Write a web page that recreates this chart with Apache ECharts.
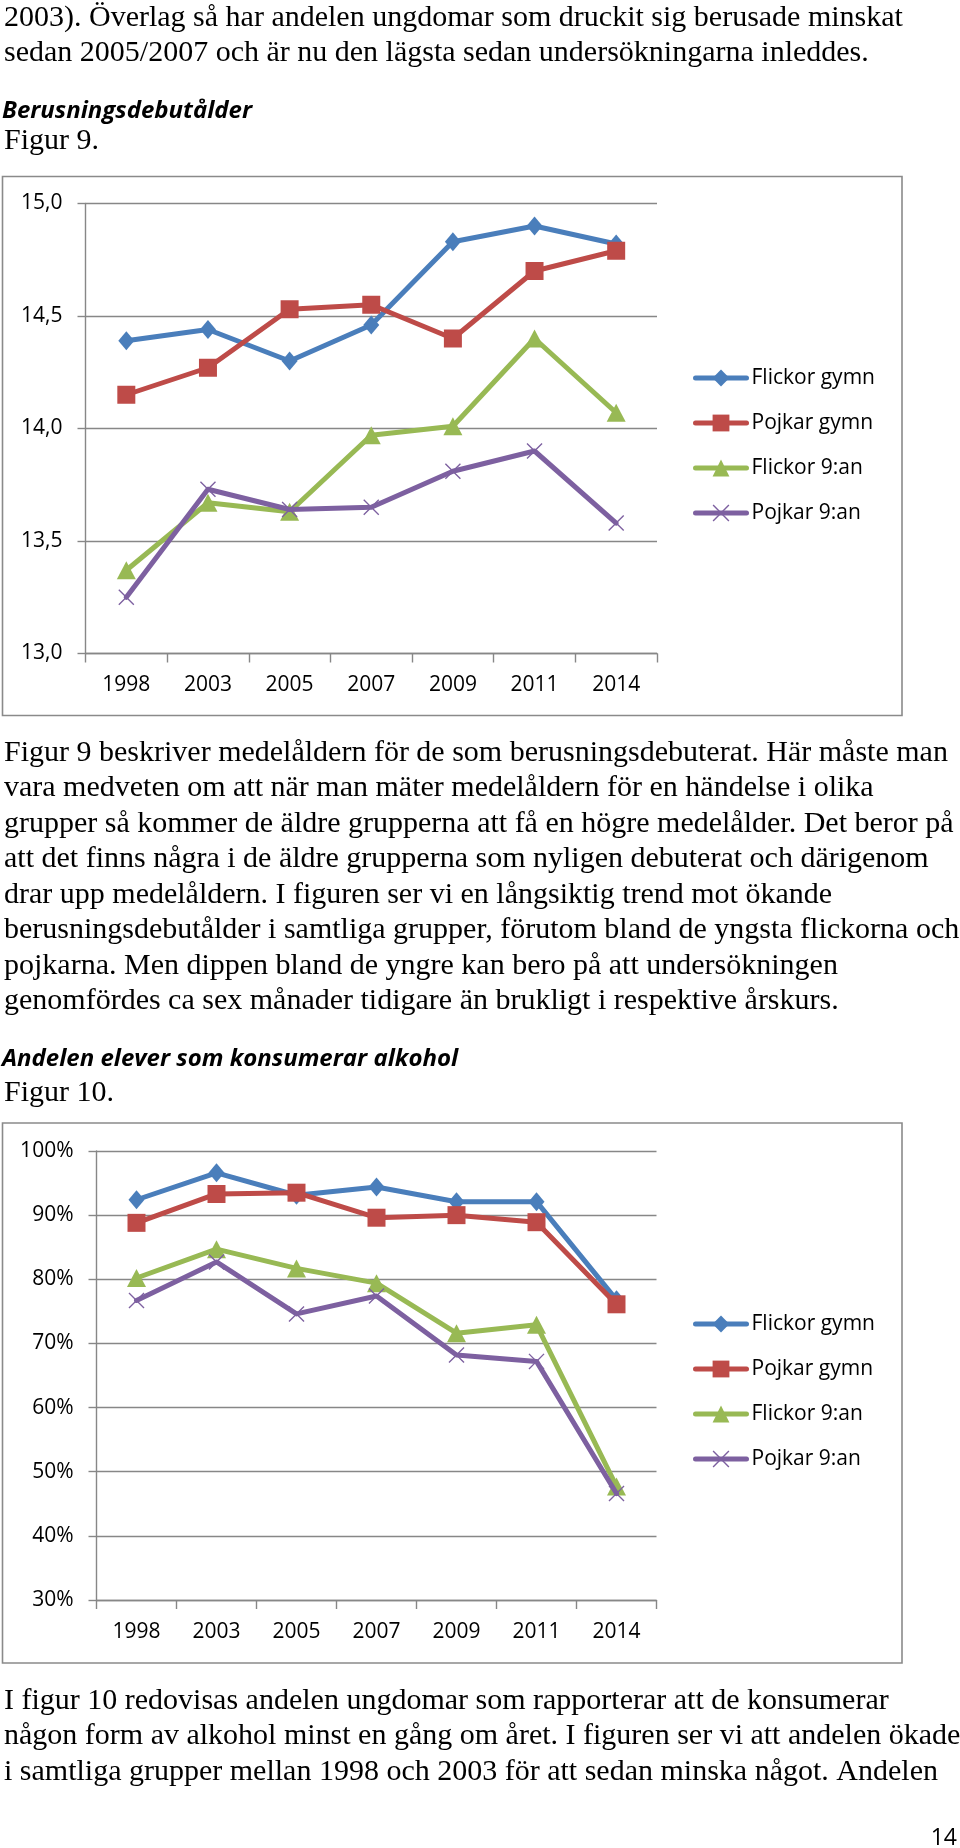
<!DOCTYPE html>
<html>
<head>
<meta charset="utf-8">
<script src="https://cdn.jsdelivr.net/npm/echarts@6/dist/echarts.min.js"></script>
<style>
html,body{margin:0;padding:0;background:#fff;}
#main{width:960px;height:1848px;}
</style>
</head>
<body>
<div id="main"></div>
<script>
// ---------- data ----------
const years = ['1998', '2003', '2005', '2007', '2009', '2011', '2014'];
const seriesNames = ['Flickor gymn', 'Pojkar gymn', 'Flickor 9:an', 'Pojkar 9:an'];

// Figur 9: Berusningsdebutålder (years of age)
const fig9FlickorGymn = [14.39, 14.44, 14.30, 14.46, 14.83, 14.90, 14.82];
const fig9PojkarGymn  = [14.15, 14.27, 14.53, 14.55, 14.40, 14.70, 14.79];
const fig9Flickor9an  = [13.37, 13.67, 13.63, 13.97, 14.01, 14.40, 14.07];
const fig9Pojkar9an   = [13.25, 13.73, 13.64, 13.65, 13.81, 13.90, 13.58];
const fig9TickLabels  = ['13,0', '13,5', '14,0', '14,5', '15,0'];

// Figur 10: Andelen elever som konsumerar alkohol (%)
const fig10FlickorGymn = [92.4, 96.6, 93.1, 94.4, 92.1, 92.1, 76.8];
const fig10PojkarGymn  = [88.8, 93.3, 93.5, 89.6, 90.0, 88.9, 76.1];
const fig10Flickor9an  = [80.2, 84.7, 81.7, 79.4, 71.6, 72.9, 47.7];
const fig10Pojkar9an   = [76.7, 82.7, 74.6, 77.4, 68.2, 67.2, 46.6];
const fig10TickLabels  = ['30%', '40%', '50%', '60%', '70%', '80%', '90%', '100%'];

// ---------- text ----------
const textTop = [
  '2003). Överlag så har andelen ungdomar som druckit sig berusade minskat',
  'sedan 2005/2007 och är nu den lägsta sedan undersökningarna inleddes.'
];
const heading9 = 'Berusningsdebutålder';
const caption9 = 'Figur 9.';
const textMiddle = [
  'Figur 9 beskriver medelåldern för de som berusningsdebuterat. Här måste man',
  'vara medveten om att när man mäter medelåldern för en händelse i olika',
  'grupper så kommer de äldre grupperna att få en högre medelålder. Det beror på',
  'att det finns några i de äldre grupperna som nyligen debuterat och därigenom',
  'drar upp medelåldern. I figuren ser vi en långsiktig trend mot ökande',
  'berusningsdebutålder i samtliga grupper, förutom bland de yngsta flickorna och',
  'pojkarna. Men dippen bland de yngre kan bero på att undersökningen',
  'genomfördes ca sex månader tidigare än brukligt i respektive årskurs.'
];
const heading10 = 'Andelen elever som konsumerar alkohol';
const caption10 = 'Figur 10.';
const textBottom = [
  'I figur 10 redovisas andelen ungdomar som rapporterar att de konsumerar',
  'någon form av alkohol minst en gång om året. I figuren ser vi att andelen ökade',
  'i samtliga grupper mellan 1998 och 2003 för att sedan minska något. Andelen'
];
const pageNumber = '14';

// ---------- styling ----------
const COLORS = ['#4A7EBB', '#BE4B48', '#98B954', '#7D60A0'];
const CROSS = 'path://M0,0.6 L0.6,0 L5,4.4 L9.4,0 L10,0.6 L5.6,5 L10,9.4 L9.4,10 L5,5.6 L0.6,10 L0,9.4 L4.4,5 Z';
const SYMBOLS = ['diamond', 'rect', 'triangle', CROSS];
const SYMSIZE = [[16, 19], 18, [19, 18], 16];
const GRIDC = '#878787';
const SANS = '"Open Sans", "Noto Sans", sans-serif';
const SERIF = '"Liberation Serif", "Times New Roman", serif';
const CHART_FS = 21;

function makeSeries(name, data, idx, axisIdx) {
  return {
    type: 'line', name: name, data: data,
    xAxisIndex: axisIdx, yAxisIndex: axisIdx,
    symbol: SYMBOLS[idx], symbolSize: SYMSIZE[idx],
    color: COLORS[idx],
    itemStyle: { color: COLORS[idx] },
    lineStyle: { width: 5, color: COLORS[idx], cap: 'round', join: 'round' },
    z: 2 + idx
  };
}

function xAxisDef(gi) {
  return {
    type: 'category', gridIndex: gi, data: years, boundaryGap: true,
    axisLine: { show: true, lineStyle: { color: GRIDC, width: 1.4 } },
    axisTick: { show: true, length: 9, interval: 0, lineStyle: { color: GRIDC, width: 1.4 } },
    axisLabel: { margin: 21, fontSize: CHART_FS, fontFamily: SANS, color: '#000', interval: 0, lineHeight: 22 }
  };
}
function yAxisDef(gi, min, max, interval, labels) {
  return {
    type: 'value', gridIndex: gi, min: min, max: max, interval: interval,
    axisLine: { show: true, lineStyle: { color: GRIDC, width: 1.4 } },
    axisTick: { show: true, length: 8, lineStyle: { color: GRIDC, width: 1.4 } },
    splitLine: { show: true, lineStyle: { color: GRIDC, width: 1.4 } },
    axisLabel: {
      margin: 23, fontSize: CHART_FS, fontFamily: SANS, color: '#000',
      formatter: function (v) {
        const i = Math.round((v - min) / interval);
        return labels[i] !== undefined ? labels[i] : '';
      }
    }
  };
}
function legendDef(top) {
  return {
    orient: 'vertical', left: 693, top: top, padding: 0,
    itemWidth: 51, itemHeight: 21, itemGap: 23,
    data: seriesNames,
    selectedMode: false,
    lineStyle: { width: 5 },
    textStyle: { fontSize: CHART_FS, fontFamily: SANS, color: '#000', lineHeight: 22 }
  };
}

// graphic texts
const graphics = [];
function addText(str, x, y, font, align) {
  graphics.push({
    type: 'text', z: 10,
    style: {
      text: str, x: x, y: y, font: font, fill: '#000',
      align: align || 'left', verticalAlign: 'middle',
      textAlign: align || 'left', textVerticalAlign: 'middle'
    }
  });
}
const BODY_FONT = '30px ' + SERIF;
const HEAD_FONT = 'italic bold 24px ' + SANS;
const LH = 35.5;
textTop.forEach((t, i) => addText(t, 4, 18 + i * LH, BODY_FONT));
addText(heading9, 2, 111, HEAD_FONT);
addText(caption9, 4, 141, BODY_FONT);
textMiddle.forEach((t, i) => addText(t, 4, 753 + i * LH, BODY_FONT));
addText(heading10, 2, 1059, HEAD_FONT);
addText(caption10, 4, 1093, BODY_FONT);
textBottom.forEach((t, i) => addText(t, 4, 1701 + i * LH, BODY_FONT));
addText(pageNumber, 957, 1838, '23px ' + SANS, 'right');

// chart frames
graphics.push({ type: 'rect', z: 0, shape: { x: 2.5, y: 176.5, width: 899.5, height: 539 },
  style: { fill: 'none', stroke: '#8a8a8a', lineWidth: 1.6 } });
graphics.push({ type: 'rect', z: 0, shape: { x: 2.5, y: 1123, width: 899.5, height: 540 },
  style: { fill: 'none', stroke: '#8a8a8a', lineWidth: 1.6 } });

const option = {
  animation: false,
  backgroundColor: '#fff',
  grid: [
    { left: 85.5, top: 203.5, width: 571.5, height: 450 },
    { left: 96.5, top: 1151, width: 560, height: 449 }
  ],
  xAxis: [xAxisDef(0), xAxisDef(1)],
  yAxis: [
    yAxisDef(0, 13, 15, 0.5, fig9TickLabels),
    yAxisDef(1, 30, 100, 10, fig10TickLabels)
  ],
  legend: [legendDef(367), legendDef(1313)],
  series: [
    makeSeries(seriesNames[0], fig9FlickorGymn, 0, 0),
    makeSeries(seriesNames[1], fig9PojkarGymn, 1, 0),
    makeSeries(seriesNames[2], fig9Flickor9an, 2, 0),
    makeSeries(seriesNames[3], fig9Pojkar9an, 3, 0),
    makeSeries(seriesNames[0], fig10FlickorGymn, 0, 1),
    makeSeries(seriesNames[1], fig10PojkarGymn, 1, 1),
    makeSeries(seriesNames[2], fig10Flickor9an, 2, 1),
    makeSeries(seriesNames[3], fig10Pojkar9an, 3, 1)
  ],
  graphic: graphics
};

const chart = echarts.init(document.getElementById('main'), null, { renderer: 'canvas', width: 960, height: 1848 });
chart.setOption(option);
</script>
</body>
</html>
